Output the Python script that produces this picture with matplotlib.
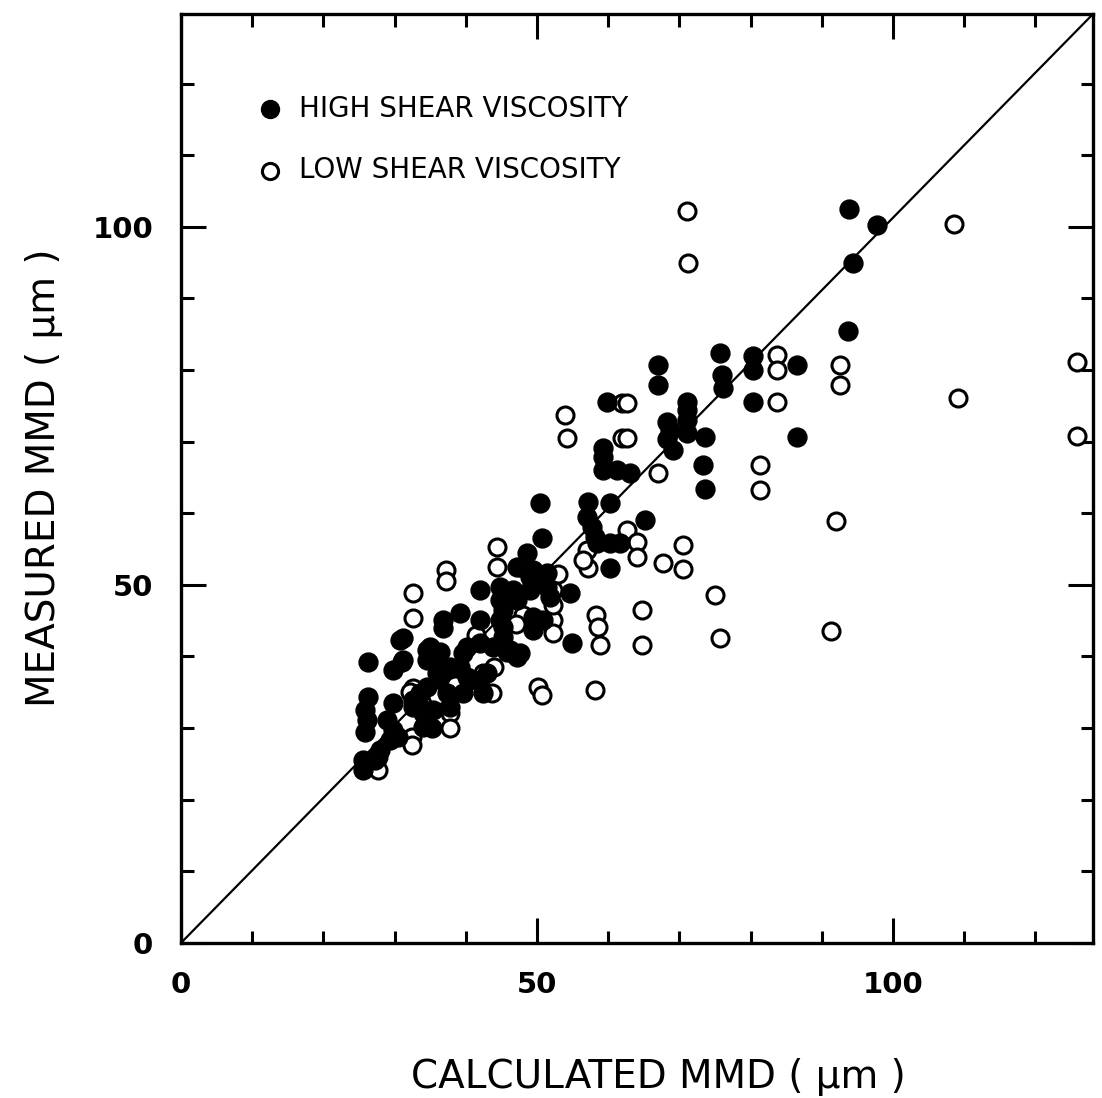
import matplotlib
matplotlib.use("Agg")
import numpy as np
import matplotlib.pyplot as plt
from matplotlib.ticker import MultipleLocator

plt.rcParams["font.family"] = ["DejaVu Sans"]

# calculated vs measured MMD (um)
high_x = [93.8, 97.7, 94.4, 93.7, 86.5, 80.3, 80.3, 75.7, 76.0, 76.1, 80.3, 86.5,
          73.6, 73.3, 73.6, 67.0, 67.0, 71.1, 71.1, 71.1, 71.1, 68.3, 68.7, 68.3,
          69.1, 59.8, 59.3, 59.3, 59.3, 61.2, 63.1, 50.4, 57.2, 60.3, 57.0, 57.7,
          58.1, 58.4, 60.3, 61.7, 65.2, 50.7, 60.3, 54.6, 48.6, 47.2, 49.4, 51.4,
          44.8, 46.6, 49.0, 51.4, 42.0, 44.8, 45.2, 44.8, 49.4, 50.8, 39.2, 36.8,
          36.8, 42.0, 54.9, 31.2, 31.2, 35.0, 36.4, 35.4, 40.2, 42.0, 43.8, 45.8,
          47.6, 39.2, 40.2, 42.0, 43.0, 36.4, 34.6, 33.6, 32.6, 33.6, 37.4, 37.8,
          35.4, 42.4, 30.8, 26.3, 29.8, 31.0, 26.3, 25.8, 26.1, 25.8, 29.8, 28.9,
          29.8, 29.4, 25.6, 25.6, 32.6, 34.0, 34.6, 34.6, 45.2, 45.2, 49.0, 50.8,
          51.8, 47.2, 49.4, 35.3, 34.0, 40.6, 39.6, 46.2, 47.2, 39.6, 37.8, 36.0,
          27.2, 28.0, 30.5]
high_y = [102.5, 100.3, 95.0, 85.4, 80.7, 81.9, 80.0, 82.4, 79.3, 77.5, 75.6, 70.7,
          70.7, 66.8, 63.4, 80.7, 77.9, 75.6, 74.4, 73.0, 71.2, 72.8, 71.6, 70.3,
          68.9, 75.6, 69.1, 67.9, 66.1, 66.1, 65.6, 61.5, 61.6, 61.5, 59.5, 58.1,
          56.7, 55.9, 55.9, 55.9, 59.1, 56.6, 52.4, 48.8, 54.5, 52.5, 52.1, 51.7,
          49.7, 49.3, 49.3, 49.7, 49.3, 47.9, 46.5, 45.1, 45.5, 45.1, 46.1, 45.1,
          44.0, 45.1, 41.9, 42.6, 39.5, 41.3, 40.6, 39.5, 41.3, 41.9, 41.3, 40.6,
          40.5, 38.5, 37.2, 36.7, 37.7, 37.2, 35.8, 34.9, 33.9, 33.0, 34.9, 33.0,
          32.5, 34.9, 42.3, 39.2, 38.1, 39.2, 34.4, 32.5, 31.1, 29.5, 33.5, 31.1,
          29.7, 28.4, 25.6, 24.2, 33.0, 30.2, 40.9, 39.5, 44.1, 42.7, 51.1, 50.3,
          48.3, 47.9, 43.7, 30.0, 32.1, 36.7, 34.9, 40.9, 39.9, 40.5, 38.5, 37.7,
          25.6, 27.0, 28.8]

low_x = [71.1, 71.2, 108.6, 109.1, 125.8, 125.8, 83.7, 83.7, 83.7, 92.6, 92.6, 92.0,
         91.3, 81.3, 81.4, 67.0, 53.9, 54.2, 62.0, 62.6, 62.0, 62.6, 62.6, 64.0,
         64.0, 57.0, 57.2, 70.5, 67.7, 70.5, 75.0, 75.7, 58.3, 58.6, 58.9, 64.7,
         64.7, 58.1, 50.1, 50.7, 44.4, 44.4, 37.2, 37.2, 32.6, 32.6, 48.0, 52.2,
         52.2, 52.2, 52.2, 51.5, 47.6, 42.4, 43.7, 37.8, 37.8, 32.4, 32.4, 27.7,
         27.7, 32.6, 33.1, 32.2, 41.5, 44.0, 38.5, 36.0, 47.0, 53.0, 56.5]
low_y = [102.2, 95.0, 100.4, 76.1, 81.1, 70.8, 82.1, 80.0, 75.6, 80.7, 77.9, 58.9,
         43.6, 66.8, 63.3, 65.6, 73.7, 70.5, 75.4, 75.4, 70.5, 70.5, 57.7, 56.0,
         53.9, 54.9, 52.4, 55.6, 53.1, 52.2, 48.6, 42.6, 45.8, 44.1, 41.6, 46.5,
         41.6, 35.3, 35.8, 34.6, 55.3, 52.5, 52.1, 50.5, 48.9, 45.4, 45.8, 45.1,
         43.3, 47.2, 49.3, 51.0, 52.5, 37.7, 34.9, 32.1, 30.0, 28.8, 27.7, 26.0,
         24.2, 35.6, 33.7, 35.1, 43.0, 38.5, 36.0, 34.5, 44.5, 51.5, 53.5]

fig = plt.figure(figsize=(11.02, 10.98), dpi=100)
ax = fig.add_axes([0.1642, 0.1412, 0.8276, 0.846])

# 1:1 line, runs corner to corner in the original
ax.plot([0, 1], [0, 1], transform=ax.transAxes, color="black", lw=1.6, zorder=1)
ax.scatter(low_x, low_y, s=150, facecolors="white", edgecolors="black",
           linewidths=2.2, zorder=2, label="LOW SHEAR VISCOSITY")
ax.scatter(high_x, high_y, s=185, color="black", zorder=3,
           label="HIGH SHEAR VISCOSITY")

ax.set_xlim(0, 128.1)
ax.set_ylim(0, 129.7)
ax.xaxis.set_major_locator(MultipleLocator(50))
ax.yaxis.set_major_locator(MultipleLocator(50))
ax.xaxis.set_minor_locator(MultipleLocator(10))
ax.yaxis.set_minor_locator(MultipleLocator(10))
ax.tick_params(which="both", direction="in", top=True, right=True, width=2.2)
ax.tick_params(which="major", length=18, labelsize=21, pad=20)
ax.tick_params(which="minor", length=9)
for lab in ax.get_xticklabels() + ax.get_yticklabels():
    lab.set_fontweight("bold")
for sp in ax.spines.values():
    sp.set_linewidth(2.4)

handles, labels = ax.get_legend_handles_labels()
ax.legend(handles[::-1], labels[::-1], loc="upper left",
          bbox_to_anchor=(0.058, 0.94), frameon=False, fontsize=20,
          labelspacing=1.2, handletextpad=0.65, handlelength=0.8,
          markerscale=0.95)

fig.text(0.597, 0.002, "CALCULATED MMD ( \u03bcm )", fontsize=28,
         ha="center", va="bottom")
fig.text(0.040, 0.565, "MEASURED MMD ( \u03bcm )", fontsize=28,
         ha="center", va="center", rotation=90)

fig.savefig("out.png", dpi=100)
